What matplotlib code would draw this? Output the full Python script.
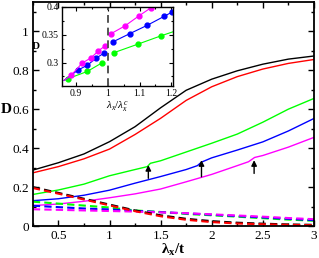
import matplotlib
matplotlib.use('Agg')
import matplotlib.pyplot as plt
from matplotlib.ticker import MultipleLocator, FixedLocator

plt.rcParams['font.family'] = ['Liberation Serif', 'DejaVu Serif']
plt.rcParams['mathtext.fontset'] = 'custom'
plt.rcParams['mathtext.rm'] = 'Liberation Serif'
plt.rcParams['mathtext.it'] = 'Liberation Serif:italic'
plt.rcParams['mathtext.bf'] = 'Liberation Serif:bold'

# ---------------- main panel data ----------------
x_main = [0.25, 0.5, 0.75, 1.0, 1.25, 1.5, 1.75, 2.0, 2.25, 2.5, 2.75, 3.0]
black_solid = [0.287, 0.325, 0.37, 0.433, 0.51, 0.607, 0.697, 0.754, 0.797, 0.831, 0.857, 0.873]
red_solid = [0.273, 0.305, 0.345, 0.395, 0.47, 0.553, 0.645, 0.715, 0.767, 0.806, 0.835, 0.855]

x_green = [0.25, 0.5, 0.75, 1.0, 1.25, 1.37, 1.40, 1.5, 1.75, 2.0, 2.25, 2.5, 2.75, 3.0]
green_solid = [0.162, 0.185, 0.215, 0.258, 0.29, 0.305, 0.322, 0.335, 0.38, 0.425, 0.472, 0.533, 0.6, 0.655]

x_blue = [0.25, 0.5, 0.75, 1.0, 1.25, 1.5, 1.75, 1.86, 1.9, 2.0, 2.25, 2.5, 2.75, 3.0]
blue_solid = [0.13, 0.14, 0.158, 0.184, 0.22, 0.254, 0.29, 0.31, 0.328, 0.35, 0.39, 0.432, 0.488, 0.552]

x_mag = [0.25, 0.5, 0.75, 1.0, 1.25, 1.5, 1.75, 2.0, 2.25, 2.36, 2.42, 2.5, 2.75, 3.0]
mag_solid = [0.105, 0.113, 0.127, 0.145, 0.165, 0.19, 0.227, 0.265, 0.31, 0.33, 0.352, 0.362, 0.405, 0.455]

black_dash = [0.2, 0.17, 0.14, 0.11, 0.08, 0.055, 0.037, 0.025, 0.017, 0.012, 0.008, 0.006]
red_dash = [0.195, 0.166, 0.136, 0.106, 0.076, 0.05, 0.032, 0.02, 0.013, 0.009, 0.006, 0.004]
green_dash = [0.125, 0.115, 0.105, 0.095, 0.08, 0.072, 0.062, 0.055, 0.048, 0.04, 0.033, 0.027]
blue_dash = [0.104, 0.097, 0.09, 0.085, 0.078, 0.071, 0.065, 0.058, 0.051, 0.044, 0.037, 0.03]
mag_dash = [0.086, 0.083, 0.08, 0.077, 0.074, 0.07, 0.066, 0.06, 0.054, 0.048, 0.041, 0.035]

# arrows: (x, tail y, head y)
arrow_x = [1.38, 1.90, 2.415]
arrow_tail = [0.245, 0.253, 0.27]
arrow_head = [0.313, 0.338, 0.338]

# ---------------- inset data ----------------
ins_green_left_x = [0.862, 0.874, 0.935, 0.983]
ins_green_left_y = [0.268, 0.271, 0.284, 0.300]
ins_blue_left_x = [0.862, 0.907, 0.935, 0.963, 0.988]
ins_blue_left_y = [0.268, 0.287, 0.295, 0.308, 0.317]
ins_mag_left_x = [0.862, 0.884, 0.919, 0.948, 0.970, 0.991]
ins_mag_left_y = [0.268, 0.277, 0.299, 0.309, 0.321, 0.330]

ins_green_right_x = [1.020, 1.094, 1.167, 1.24]
ins_green_right_y = [0.318, 0.333, 0.348, 0.362]
ins_blue_right_x = [1.015, 1.069, 1.124, 1.177, 1.203]
ins_blue_right_y = [0.337, 0.352, 0.367, 0.383, 0.391]
ins_mag_right_x = [1.010, 1.054, 1.098, 1.137, 1.18]
ins_mag_right_y = [0.352, 0.366, 0.384, 0.399, 0.415]

GREEN = '#00ff00'
BLUE = '#0000ff'
MAG = '#ff00ff'
RED = '#ff0000'

fig = plt.figure(figsize=(3.19, 2.58), dpi=100)
ax = fig.add_axes([0.103, 0.124, 0.881, 0.868])

lw = 1.0
ax.plot(x_main, black_solid, color='k', lw=lw)
ax.plot(x_main, red_solid, color=RED, lw=lw)
ax.plot(x_green, green_solid, color=GREEN, lw=lw)
ax.plot(x_blue, blue_solid, color=BLUE, lw=lw)
ax.plot(x_mag, mag_solid, color=MAG, lw=lw)

dls = (0, (3.5, 2))
dlw = 1.5
ax.plot(x_main, green_dash, color=GREEN, lw=dlw, ls=dls)
ax.plot(x_main, blue_dash, color=BLUE, lw=dlw, ls=dls)
ax.plot(x_main, mag_dash, color=MAG, lw=dlw, ls=dls)
ax.plot(x_main, black_dash, color='k', lw=dlw, ls=dls)
ax.plot(x_main, red_dash, color=RED, lw=dlw, ls=dls)

for xa, yt, yh in zip(arrow_x, arrow_tail, arrow_head):
    ax.annotate('', xy=(xa, yh), xytext=(xa, yt),
                arrowprops=dict(arrowstyle='-|>', color='k', lw=1.0,
                                mutation_scale=8, shrinkA=0, shrinkB=0))

ax.set_xlim(0.25, 3.0)
ax.set_ylim(0, 1.15)
ax.xaxis.set_major_locator(FixedLocator([0.5, 1.0, 1.5, 2.0, 2.5, 3.0]))
ax.xaxis.set_minor_locator(MultipleLocator(0.25))
ax.yaxis.set_major_locator(FixedLocator([0, 0.2, 0.4, 0.6, 0.8, 1.0]))
ax.yaxis.set_minor_locator(MultipleLocator(0.1))
ax.set_xticklabels(['0.5', '1', '1.5', '2', '2.5', '3'])
ax.set_yticklabels(['0', '0.2', '0.4', '0.6', '0.8', '1'])
ax.tick_params(which='both', direction='in', top=True, right=True, labelsize=9.5, width=1.0)
ax.tick_params(which='major', length=4.5, pad=3)
ax.tick_params(which='minor', length=2.5)
for s in ax.spines.values():
    s.set_linewidth(1.3)
ax.set_xlabel(r'$\mathbf{\lambda_x/t}$', fontsize=11, labelpad=0)
ax.set_ylabel('D', fontsize=11, fontweight='bold', rotation=0, va='center', ha='center')
ax.yaxis.set_label_coords(-0.095, 0.52)

# ---------------- inset ----------------
ins = fig.add_axes([0.194, 0.667, 0.348, 0.306])
ms = 3.5
ins.plot(ins_green_left_x, ins_green_left_y, color=GREEN, lw=0.8, marker='o', ms=ms, markevery=slice(1, None))
ins.plot(ins_blue_left_x, ins_blue_left_y, color=BLUE, lw=0.8, marker='o', ms=ms, markevery=slice(1, None))
ins.plot(ins_mag_left_x, ins_mag_left_y, color=MAG, lw=0.8, marker='o', ms=ms, markevery=slice(1, None))
ins.plot(ins_green_right_x, ins_green_right_y, color=GREEN, lw=0.8, marker='o', ms=ms)
ins.plot(ins_blue_right_x, ins_blue_right_y, color=BLUE, lw=0.8, marker='o', ms=ms)
ins.plot(ins_mag_right_x, ins_mag_right_y, color=MAG, lw=0.8, marker='o', ms=ms)
ins.axvline(1.0, color='#555555', lw=1.4, ls=(0, (4, 2.5)))
ins.set_xlim(0.855, 1.205)
ins.set_ylim(0.258, 0.4)
ins.xaxis.set_major_locator(FixedLocator([0.9, 1.0, 1.1, 1.2]))
ins.xaxis.set_minor_locator(MultipleLocator(0.05))
ins.yaxis.set_major_locator(FixedLocator([0.3, 0.35, 0.4]))
ins.yaxis.set_minor_locator(MultipleLocator(0.025))
ins.set_xticklabels(['0.9', '1', '1.1', '1.2'])
ins.set_yticklabels(['0.3', '0.35', '0.4'])
ins.tick_params(which='both', direction='in', top=True, right=True, labelsize=7, width=0.8, pad=2)
ins.tick_params(which='major', length=3)
ins.tick_params(which='minor', length=1.5)
for s in ins.spines.values():
    s.set_linewidth(1.0)
ins.set_xlabel(r'$\lambda_x/\lambda^c_x$', fontsize=8, labelpad=1)
ins.set_ylabel('D', fontsize=8, fontweight='bold', rotation=0, labelpad=2, va='center', ha='right')

fig.savefig('out.png', dpi=100)
